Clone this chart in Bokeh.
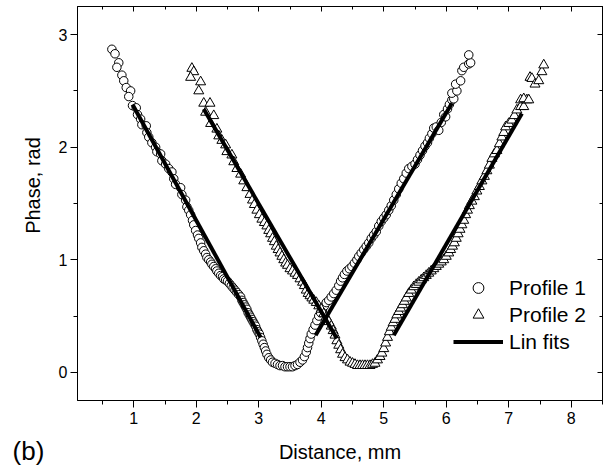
import math
from bokeh.plotting import figure
from bokeh.models import (ColumnDataSource, LinearAxis, SingleIntervalTicker, Range1d,
                          Legend, LegendItem, Label)
from bokeh.embed import file_html
from bokeh.resources import INLINE

# ---------------- data ----------------
p1_x = [0.65, 0.70, 0.76, 0.73, 0.81, 0.84, 0.88, 0.95, 0.92, 0.98, 1.04, 1.06, 1.11, 1.13,
        1.20, 1.21, 1.24, 1.29, 1.35, 1.37, 1.43, 1.45, 1.51, 1.56, 1.61, 1.64, 1.67, 1.75,
        1.77, 1.83, 1.85, 1.88, 1.91, 1.94, 1.96, 1.99, 2.02, 2.04, 2.07, 2.09, 2.12, 2.15,
        2.17, 2.20, 2.23, 2.25, 2.28, 2.31, 2.33, 2.36, 2.39, 2.42, 2.44, 2.47, 2.50, 2.53,
        2.56, 2.59, 2.62, 2.65, 2.68, 2.71, 2.73, 2.75, 2.77, 2.79, 2.81, 2.83, 2.85, 2.87,
        2.89, 2.91, 2.93, 2.95, 2.97, 2.99, 3.01, 3.03, 3.05, 3.07, 3.09, 3.11, 3.13, 3.16,
        3.19, 3.22, 3.26, 3.30, 3.34, 3.38, 3.42, 3.46, 3.50, 3.54, 3.58, 3.62, 3.66, 3.70,
        3.73, 3.76, 3.78, 3.80, 3.82, 3.84, 3.87, 3.90, 3.93, 3.96, 3.99, 4.02, 4.05, 4.08,
        4.12, 4.16, 4.20, 4.24, 4.28, 4.31, 4.34, 4.37, 4.41, 4.45, 4.49, 4.53, 4.57, 4.60,
        4.64, 4.68, 4.72, 4.76, 4.80, 4.84, 4.88, 4.92, 4.96, 5.00, 5.04, 5.08, 5.12, 5.16,
        5.20, 5.24, 5.28, 5.32, 5.36, 5.40, 5.45, 5.50, 5.54, 5.58, 5.62, 5.66, 5.70, 5.73,
        5.77, 5.80, 5.84, 5.88, 5.92, 5.96, 5.99, 6.02, 6.05, 6.09, 6.12, 6.09, 6.17, 6.15,
        6.23, 6.25, 6.28, 6.36, 6.39, 6.36]
p1_y = [2.87, 2.83, 2.75, 2.71, 2.64, 2.59, 2.53, 2.50, 2.45, 2.37, 2.35, 2.29, 2.25, 2.20,
        2.19, 2.13, 2.09, 2.04, 2.00, 1.96, 1.94, 1.88, 1.85, 1.81, 1.78, 1.72, 1.67, 1.64,
        1.58, 1.53, 1.47, 1.44, 1.40, 1.35, 1.31, 1.26, 1.22, 1.19, 1.15, 1.11, 1.08, 1.05,
        1.02, 1.00, 0.98, 0.96, 0.94, 0.92, 0.90, 0.88, 0.86, 0.85, 0.83, 0.82, 0.81, 0.79,
        0.77, 0.75, 0.73, 0.71, 0.69, 0.67, 0.64, 0.62, 0.60, 0.58, 0.56, 0.53, 0.51, 0.49,
        0.47, 0.45, 0.43, 0.41, 0.38, 0.36, 0.34, 0.31, 0.28, 0.25, 0.22, 0.19, 0.16, 0.13,
        0.11, 0.09, 0.08, 0.07, 0.06, 0.06, 0.05, 0.05, 0.05, 0.05, 0.06, 0.07, 0.09, 0.11,
        0.14, 0.18, 0.22, 0.26, 0.30, 0.34, 0.38, 0.42, 0.46, 0.50, 0.53, 0.56, 0.59, 0.62,
        0.64, 0.67, 0.70, 0.73, 0.77, 0.81, 0.84, 0.87, 0.90, 0.92, 0.94, 0.97, 1.00, 1.03,
        1.06, 1.09, 1.12, 1.15, 1.19, 1.22, 1.25, 1.30, 1.34, 1.37, 1.40, 1.44, 1.48, 1.53,
        1.58, 1.63, 1.68, 1.72, 1.77, 1.81, 1.83, 1.85, 1.89, 1.93, 1.97, 2.01, 2.04, 2.08,
        2.12, 2.17, 2.18, 2.15, 2.22, 2.29, 2.27, 2.34, 2.38, 2.42, 2.43, 2.48, 2.50, 2.56,
        2.59, 2.68, 2.71, 2.74, 2.75, 2.82]

p2_x = [1.93, 1.96, 1.91, 2.07, 2.04, 2.12, 2.22, 2.15, 2.28, 2.23, 2.33, 2.36, 2.41, 2.47,
        2.49, 2.57, 2.60, 2.65, 2.71, 2.76, 2.81, 2.86, 2.90, 2.93, 2.97, 3.01, 3.05, 3.09,
        3.13, 3.16, 3.19, 3.22, 3.25, 3.28, 3.31, 3.34, 3.37, 3.40, 3.43, 3.46, 3.50, 3.54,
        3.58, 3.62, 3.66, 3.70, 3.73, 3.76, 3.79, 3.82, 3.85, 3.88, 3.92, 3.96, 4.00, 4.04,
        4.08, 4.12, 4.16, 4.19, 4.22, 4.25, 4.28, 4.31, 4.34, 4.38, 4.42, 4.46, 4.50, 4.54,
        4.58, 4.62, 4.66, 4.70, 4.74, 4.78, 4.82, 4.86, 4.90, 4.94, 4.97, 5.00, 5.03, 5.06,
        5.09, 5.12, 5.15, 5.18, 5.21, 5.24, 5.27, 5.30, 5.33, 5.36, 5.40, 5.44, 5.48, 5.52,
        5.56, 5.60, 5.64, 5.68, 5.72, 5.76, 5.80, 5.84, 5.88, 5.92, 5.96, 6.00, 6.04, 6.07,
        6.10, 6.13, 6.16, 6.19, 6.22, 6.25, 6.28, 6.31, 6.34, 6.37, 6.41, 6.45, 6.49, 6.53,
        6.57, 6.61, 6.65, 6.69, 6.73, 6.77, 6.81, 6.85, 6.89, 6.92, 6.95, 7.00, 7.05, 7.09,
        7.13, 7.19, 7.24, 7.19, 7.29, 7.24, 7.32, 7.34, 7.37, 7.42, 7.48, 7.53, 7.56]
p2_y = [2.70, 2.67, 2.62, 2.58, 2.50, 2.39, 2.39, 2.31, 2.28, 2.21, 2.16, 2.10, 2.06, 2.02,
        1.96, 1.93, 1.87, 1.81, 1.76, 1.70, 1.64, 1.58, 1.53, 1.49, 1.44, 1.40, 1.36, 1.33,
        1.30, 1.26, 1.23, 1.19, 1.16, 1.12, 1.09, 1.06, 1.03, 1.00, 0.97, 0.95, 0.92, 0.90,
        0.88, 0.86, 0.83, 0.80, 0.77, 0.73, 0.70, 0.68, 0.66, 0.64, 0.62, 0.59, 0.56, 0.52,
        0.49, 0.45, 0.41, 0.37, 0.33, 0.28, 0.24, 0.20, 0.16, 0.13, 0.11, 0.09, 0.08, 0.07,
        0.06, 0.06, 0.06, 0.06, 0.06, 0.06, 0.07, 0.08, 0.11, 0.14, 0.17, 0.21, 0.26, 0.31,
        0.36, 0.40, 0.44, 0.47, 0.51, 0.54, 0.57, 0.60, 0.63, 0.66, 0.70, 0.73, 0.76, 0.78,
        0.80, 0.82, 0.84, 0.86, 0.88, 0.90, 0.92, 0.94, 0.96, 0.98, 1.00, 1.03, 1.06, 1.09,
        1.12, 1.15, 1.19, 1.23, 1.27, 1.31, 1.35, 1.40, 1.44, 1.48, 1.52, 1.56, 1.61, 1.65,
        1.70, 1.74, 1.79, 1.84, 1.90, 1.94, 1.97, 2.03, 2.09, 2.13, 2.18, 2.21, 2.24, 2.28,
        2.33, 2.36, 2.36, 2.42, 2.42, 2.43, 2.42, 2.62, 2.61, 2.56, 2.59, 2.67, 2.73]

# linear fits (end points)
fit_xs = [[0.98, 3.03], [3.91, 6.09], [2.12, 4.25], [5.16, 7.21]]
fit_ys = [[2.38, 0.31], [0.33, 2.39], [2.34, 0.30], [0.33, 2.30]]

x_title = "Distance, mm"
y_title = "Phase, rad"
panel_tag = "(b)"

x_ticks_interval = 1
y_ticks_interval = 1
FONT = "Liberation Sans"

# ---------------- figure ----------------
p = figure(width=610, height=468, output_backend="svg", toolbar_location=None,
           x_range=Range1d(0.1, 8.5), y_range=Range1d(-0.25, 3.25),
           min_border_left=77, min_border_right=8, min_border_top=6, min_border_bottom=68,
           x_axis_label=x_title)
p.xgrid.visible = False
p.ygrid.visible = False
p.outline_line_color = "black"
p.outline_line_width = 1
p.background_fill_color = "white"
p.border_fill_color = "white"

for ax, interval in ((p.xaxis[0], x_ticks_interval), (p.yaxis[0], y_ticks_interval)):
    ax.ticker = SingleIntervalTicker(interval=interval, num_minor_ticks=2)
    ax.axis_line_color = "black"
    ax.major_tick_line_color = "black"
    ax.minor_tick_line_color = "black"
    ax.major_tick_out = 7
    ax.major_tick_in = 0
    ax.minor_tick_out = 4
    ax.minor_tick_in = 0
    ax.major_label_text_font = FONT
    ax.major_label_text_font_size = "16px"
    ax.major_label_text_color = "black"
    ax.axis_label_text_font = FONT
    ax.axis_label_text_font_size = "20px"
    ax.axis_label_text_font_style = "normal"
    ax.axis_label_text_color = "black"
p.xaxis[0].major_label_standoff = 4
p.xaxis[0].axis_label_standoff = 14
p.yaxis[0].major_label_standoff = 3

# mirrored inward ticks on top and right (no labels drawn)
for loc, interval in (("above", x_ticks_interval), ("right", y_ticks_interval)):
    a = LinearAxis(ticker=SingleIntervalTicker(interval=interval, num_minor_ticks=2),
                   major_tick_in=5, major_tick_out=0, minor_tick_in=3, minor_tick_out=0,
                   major_label_text_font_size="1px", major_label_text_color=None,
                   major_label_standoff=0,
                   axis_line_color="black", major_tick_line_color="black",
                   minor_tick_line_color="black")
    p.add_layout(a, loc)

src1 = ColumnDataSource(dict(x=p1_x, y=p1_y))
src2 = ColumnDataSource(dict(x=p2_x, y=p2_y))

r1 = p.scatter("x", "y", source=src1, marker="circle", size=8.5, fill_color="white",
               line_color="black", line_width=1)
r2 = p.scatter("x", "y", source=src2, marker="triangle", size=10, fill_color="white",
               line_color="black", line_width=1)
r3 = p.multi_line(xs=fit_xs, ys=fit_ys, line_color="black", line_width=4)

legend = Legend(items=[LegendItem(label="Profile 1", renderers=[r1]),
                       LegendItem(label="Profile 2", renderers=[r2]),
                       LegendItem(label="Lin fits", renderers=[r3])],
                location=(376, 45), border_line_color=None, background_fill_alpha=0,
                padding=0, margin=0, spacing=0, glyph_width=50, glyph_height=27,
                label_height=27, label_standoff=6, label_text_font=FONT,
                label_text_font_size="21px", label_text_color="black")
p.add_layout(legend)

# y-axis title and the panel tag live in the left side panel (stacked after the axis),
# so they are not clipped to the frame
ylab = Label(x=-1, y=215, x_units="screen", y_units="screen", text=y_title,
             angle=math.pi / 2, text_align="center", text_baseline="middle",
             text_font=FONT, text_font_size="20px", text_color="black")
p.add_layout(ylab, "left")
tag = Label(x=27, y=-50, x_units="screen", y_units="screen", text=panel_tag,
            text_align="center", text_baseline="middle",
            text_font=FONT, text_font_size="26px", text_color="black")
p.add_layout(tag, "left")

open("out.html", "w").write(file_html(p, INLINE))
